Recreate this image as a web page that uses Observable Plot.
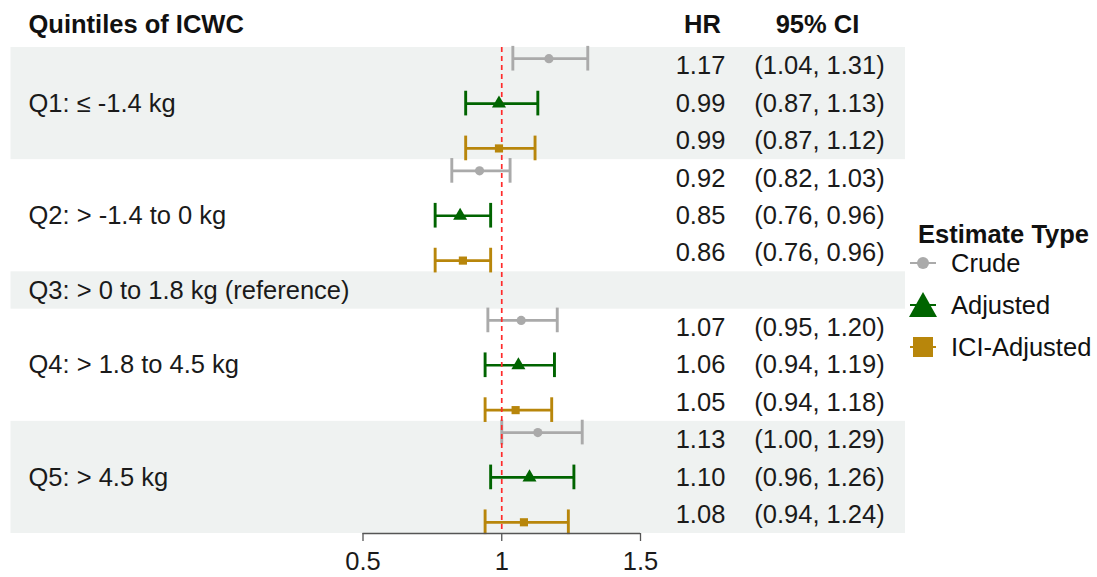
<!DOCTYPE html>
<html>
<head>
<meta charset="utf-8">
<script src="https://cdn.jsdelivr.net/npm/d3@7"></script>
<script src="https://cdn.jsdelivr.net/npm/@observablehq/plot@0.6"></script>
<style>
  body { margin: 0; background: #fff; font-family: "Liberation Sans", Arial, sans-serif; }
  #wrap { position: relative; width: 1097px; height: 577px; }
  #legend { position: absolute; left: 0; top: 0; color: #111; }
  #legend div { position: absolute; white-space: nowrap; }
  #legend .title { font-weight: bold; font-size: 25.5px; left: 918px; top: 220px; }
  #legend .item { display: flex; align-items: center; left: 909px; height: 30px; font-size: 25.5px; }
  #legend .item svg { margin-right: 14px; }
</style>
</head>
<body>
<div id="wrap"></div>
<script>
// ---- data ----
const categories = ["Q1: ≤ -1.4 kg", "Q2: > -1.4 to 0 kg", "Q3: > 0 to 1.8 kg (reference)", "Q4: > 1.8 to 4.5 kg", "Q5: > 4.5 kg"];
const types = ["Crude", "Adjusted", "ICI-Adjusted"];
const colors = ["#aaaaaa", "#006400", "#b8860b"];
const crudeHR = [1.17, 0.92, null, 1.07, 1.13];
const crudeLo = [1.04, 0.82, null, 0.95, 1.00];
const crudeHi = [1.31, 1.03, null, 1.20, 1.29];
const adjHR = [0.99, 0.85, null, 1.06, 1.10];
const adjLo = [0.87, 0.76, null, 0.94, 0.96];
const adjHi = [1.13, 0.96, null, 1.19, 1.26];
const iciHR = [0.99, 0.86, null, 1.05, 1.08];
const iciLo = [0.87, 0.76, null, 0.94, 0.94];
const iciHi = [1.12, 0.96, null, 1.18, 1.24];
const xTicks = [0.5, 1, 1.5];

// ---- build table ----
const series = [[crudeHR, crudeLo, crudeHi], [adjHR, adjLo, adjHi], [iciHR, iciLo, iciHi]];
const groups = [];
let row = 0;
categories.forEach((c, i) => {
  const n = crudeHR[i] == null ? 1 : 3;
  groups.push({cat: c, i, start: row, end: row + n, center: row + n / 2, shaded: i % 2 === 0});
  row += n;
});
const nRows = row;
const est = [];
groups.forEach(g => {
  if (crudeHR[g.i] == null) return;
  types.forEach((t, k) => {
    const [h, lo, hi] = series[k];
    est.push({type: t, k, hr: h[g.i], lo: lo[g.i], hi: hi[g.i],
      ybar: g.center + (k - 1) * 1.2, ytxt: g.center + (k - 1)});
  });
});
const capH = 0.33;
const FS = 25.5;

const plot = Plot.plot({
  width: 1097,
  height: 577,
  marginLeft: 362.5,
  marginRight: 457,
  marginTop: 47,
  marginBottom: 44,
  style: {fontFamily: "'Liberation Sans', Arial, sans-serif", fontSize: FS + "px", color: "#222"},
  x: {domain: [0.5, 1.5], label: null},
  y: {domain: [0, nRows], axis: null, reverse: true},
  marks: [
    Plot.rect(groups.filter(g => g.shaded), {y1: "start", y2: "end", fill: "#eff2f1", insetLeft: -352, insetRight: -265}),
    Plot.ruleY(est, {x1: "lo", x2: "hi", y: "ybar", stroke: d => colors[d.k], strokeWidth: 2.7}),
    Plot.ruleX(est, {x: "lo", y1: d => d.ybar - capH, y2: d => d.ybar + capH, stroke: d => colors[d.k], strokeWidth: 2.9}),
    Plot.ruleX(est, {x: "hi", y1: d => d.ybar - capH, y2: d => d.ybar + capH, stroke: d => colors[d.k], strokeWidth: 2.9}),
    Plot.ruleX([1], {y1: 0, y2: nRows, stroke: "#ff2b2b", strokeWidth: 1.7, strokeDasharray: "5,4"}),
    Plot.dot(est.filter(d => d.k === 0), {x: "hr", y: "ybar", r: 4.6, fill: colors[0], symbol: "circle"}),
    Plot.dot(est.filter(d => d.k === 1), {x: "hr", y: "ybar", r: 5.2, fill: colors[1], symbol: "triangle"}),
    Plot.dot(est.filter(d => d.k === 2), {x: "hr", y: "ybar", r: 4.6, fill: colors[2], symbol: "square"}),
    Plot.ruleY([nRows], {x1: xTicks[0], x2: xTicks[xTicks.length - 1], stroke: "#555", strokeWidth: 1.5}),
    Plot.axisX({ticks: xTicks, tickFormat: d => String(d), tickSize: 8, tickPadding: 10, stroke: "#555", strokeWidth: 1.3, fill: "#1a1a1a"}),
    // group labels
    Plot.text(groups, {y: "center", text: "cat", frameAnchor: "left", dx: -334.5, textAnchor: "start", fontSize: FS, fill: "#1a1a1a"}),
    // HR / CI columns
    Plot.text(est, {y: "ytxt", text: d => d.hr.toFixed(2), frameAnchor: "right", dx: 60, textAnchor: "middle", fontSize: FS, fill: "#1a1a1a"}),
    Plot.text(est, {y: "ytxt", text: d => `(${d.lo.toFixed(2)}, ${d.hi.toFixed(2)})`, frameAnchor: "right", dx: 179, textAnchor: "middle", fontSize: FS, fill: "#1a1a1a"}),
    // headers
    Plot.text(["Quintiles of ICWC"], {y: -0.5, text: d => d, frameAnchor: "left", dx: -334.5, dy: -4, textAnchor: "start", fontWeight: "bold", fontSize: FS, fill: "#111"}),
    Plot.text(["HR"], {y: -0.5, text: d => d, frameAnchor: "right", dx: 62, dy: -4, textAnchor: "middle", fontWeight: "bold", fontSize: FS, fill: "#111"}),
    Plot.text(["95% CI"], {y: -0.5, text: d => d, frameAnchor: "right", dx: 177, dy: -4, textAnchor: "middle", fontWeight: "bold", fontSize: FS, fill: "#111"})
  ]
});
document.getElementById("wrap").appendChild(plot);

// ---- legend ----
const legend = document.createElement("div");
legend.id = "legend";
const title = document.createElement("div");
title.className = "title";
title.textContent = "Estimate Type";
legend.appendChild(title);
const symPaths = [
  '<circle cx="14" cy="15" r="6" />',
  '<path d="M14,2 L28,27 L0,27 Z" />',
  '<rect x="4" y="5" width="20" height="20" />'
];
const itemTops = [248, 290, 332];
types.forEach((t, k) => {
  const item = document.createElement("div");
  item.className = "item";
  item.style.top = itemTops[k] + "px";
  item.innerHTML = `<svg width="28" height="30"><line x1="1" x2="27" y1="15" y2="15" stroke="${colors[k]}" stroke-width="2"/><g fill="${colors[k]}">${symPaths[k]}</g></svg><span>${t}</span>`;
  legend.appendChild(item);
});
document.getElementById("wrap").appendChild(legend);
</script>
</body>
</html>
